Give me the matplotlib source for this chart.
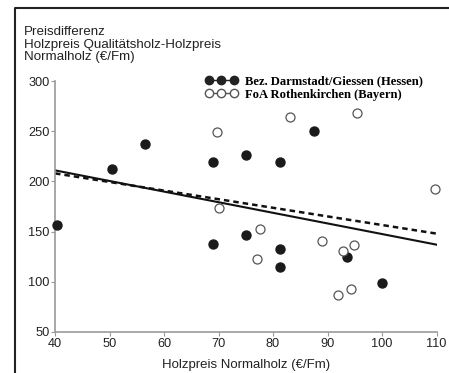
import matplotlib
matplotlib.use("Agg")
import matplotlib.pyplot as plt
from matplotlib.lines import Line2D

# Daten: Bez. Darmstadt/Giessen (Hessen) - gefuellte Punkte
hessen_x = [40.3, 50.4, 56.5, 68.9, 68.9, 75.0, 75.0, 81.3, 81.3, 81.3, 87.5, 93.6, 100.0]
hessen_y = [157, 212, 237, 219, 138, 226, 147, 219, 133, 115, 250, 125, 99]

# Daten: FoA Rothenkirchen (Bayern) - offene Punkte
bayern_x = [69.7, 70.1, 77.6, 77.0, 83.1, 88.9, 92.9, 94.9, 91.9, 94.4, 95.4, 109.7]
bayern_y = [249, 174, 153, 123, 264, 141, 131, 137, 87, 93, 268, 192]

trend_x = [40, 110]
hessen_trend = [211, 137]
bayern_trend = [208, 148]

xticks = [40, 50, 60, 70, 80, 90, 100, 110]
yticks = [50, 100, 150, 200, 250, 300]

W, H = 449, 373
fig = plt.figure(figsize=(W / 100, H / 100), dpi=100)
ax = fig.add_axes([55 / W, (H - 332) / H, (436.5 - 55) / W, (332 - 81) / H])

sans = "Liberation Sans"
grey = "#9a9a9a"

ax.scatter(hessen_x, hessen_y, s=42, c="#1a1a1a", edgecolors="#1a1a1a", zorder=3, clip_on=False)
ax.scatter(bayern_x, bayern_y, s=42, c="white", edgecolors="#555555", linewidths=0.9, zorder=3, clip_on=False)

ax.plot(trend_x, hessen_trend, color="#111111", lw=1.5, zorder=2)
ax.plot(trend_x, bayern_trend, color="#111111", lw=1.8, dashes=(2.2, 1.6), zorder=2)

ax.set_xlim(40, 110)
ax.set_ylim(50, 300)
ax.set_xticks(xticks)
ax.set_yticks(yticks)
for s in ["top", "right"]:
    ax.spines[s].set_visible(False)
for s in ["left", "bottom"]:
    ax.spines[s].set_color(grey)
    ax.spines[s].set_linewidth(1.2)
ax.tick_params(colors=grey, length=3, width=0.8, labelcolor="#222222", labelsize=9.2, pad=1)
for lab in ax.get_xticklabels() + ax.get_yticklabels():
    lab.set_fontfamily(sans)

ax.set_xlabel("Holzpreis Normalholz (€/Fm)", fontfamily=sans, fontsize=9.5, color="#222222", labelpad=7)

fig.text(24 / W, 1 - 26 / H, "Preisdifferenz\nHolzpreis Qualitätsholz-Holzpreis\nNormalholz (€/Fm)",
         fontfamily=sans, fontsize=9.6, color="#222222", va="top", ha="left", linespacing=1.08)

handles = [
    Line2D([], [], color="#222222", lw=1, marker="o", markersize=6,
           markerfacecolor="#222222", markeredgecolor="#222222"),
    Line2D([], [], color="#555555", lw=1, marker="o", markersize=6,
           markerfacecolor="white", markeredgecolor="#555555"),
]
labels = ["Bez. Darmstadt/Giessen (Hessen)", "FoA Rothenkirchen (Bayern)"]
fig.legend(handles, labels, loc="upper left", bbox_to_anchor=(205 / W, 1 - 75 / H),
           frameon=False, numpoints=3, handlelength=2.6, handletextpad=0.6,
           labelspacing=0.15, borderaxespad=0, borderpad=0,
           prop={"family": "Liberation Serif", "weight": "bold", "size": 9.1})

# Rahmen oben und links
fig.add_artist(Line2D([14.5 / W, 14.5 / W, 1.0], [0.0, 1 - 8 / H, 1 - 8 / H],
                      transform=fig.transFigure, color="#222222", lw=1.5))

fig.savefig("out.png", dpi=100)
